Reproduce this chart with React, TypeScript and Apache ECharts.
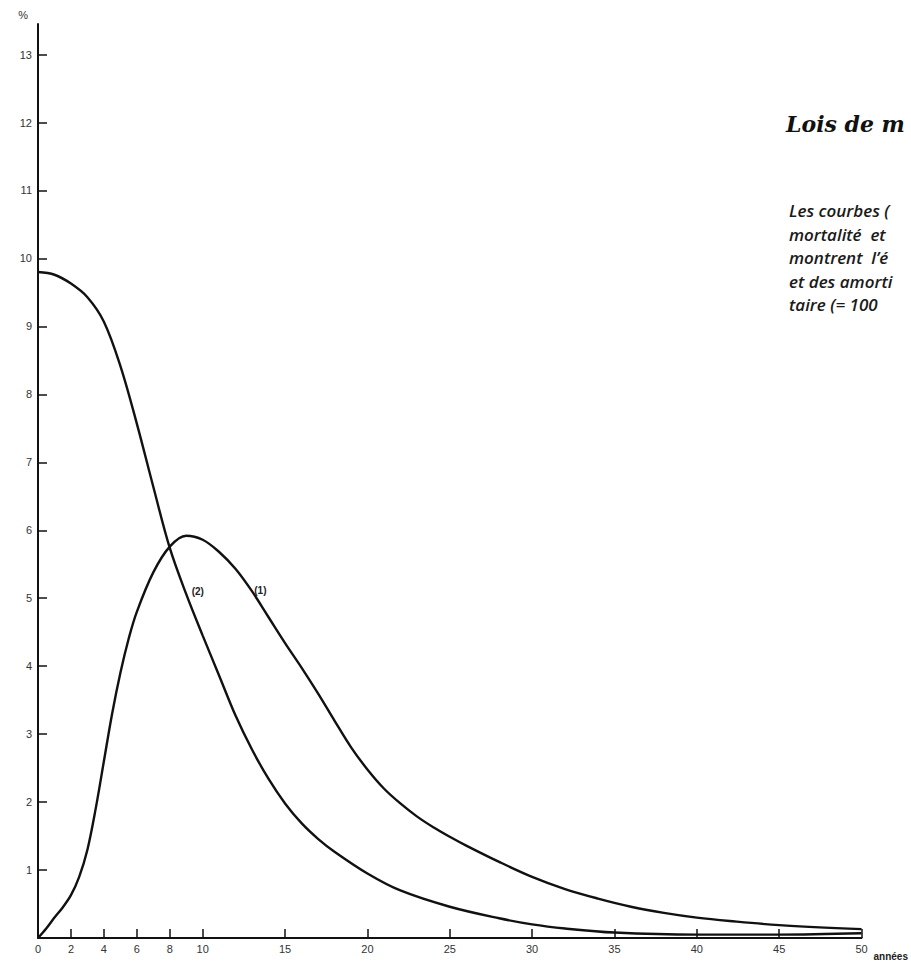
import { useEffect, useRef } from "react";
import * as echarts from "echarts";

// Curve (1): bell-shaped curve (%), by year
const years1 = [0, 0.5, 1, 1.5, 2, 2.5, 3, 3.5, 4, 4.5, 5, 5.5, 6, 7, 8, 9, 10, 11, 12, 13, 14, 15, 16, 17, 18, 19, 20, 21, 22, 23, 24, 25, 26, 28, 30, 32, 34, 36, 38, 40, 42, 45, 50];
const values1 = [0, 0.14, 0.3, 0.45, 0.63, 0.9, 1.3, 1.9, 2.6, 3.3, 3.9, 4.4, 4.8, 5.38, 5.76, 5.92, 5.86, 5.68, 5.43, 5.1, 4.72, 4.34, 3.98, 3.6, 3.2, 2.81, 2.48, 2.2, 1.98, 1.79, 1.63, 1.49, 1.36, 1.12, 0.9, 0.72, 0.58, 0.46, 0.37, 0.3, 0.25, 0.19, 0.13];

// Curve (2): decreasing curve (%), by year
const years2 = [0, 1, 2, 3, 4, 5, 6, 7, 8, 9, 10, 11, 12, 13, 14, 15, 16, 17, 18, 20, 22, 25, 28, 30, 32, 35, 40, 45, 50];
const values2 = [9.8, 9.76, 9.63, 9.43, 9.07, 8.42, 7.57, 6.64, 5.74, 5.06, 4.45, 3.86, 3.27, 2.77, 2.34, 1.98, 1.69, 1.46, 1.27, 0.95, 0.7, 0.46, 0.29, 0.2, 0.14, 0.08, 0.05, 0.05, 0.07];

const xTickValues = [0, 2, 4, 6, 8, 10, 15, 20, 25, 30, 35, 40, 45, 50];
const yTickValues = [1, 2, 3, 4, 5, 6, 7, 8, 9, 10, 11, 12, 13];

const curveNames = ["(1)", "(2)"];
const curveLabelPos1 = [13.5, 5.12];
const curveLabelPos2 = [9.7, 5.1];

const titleText = "Lois de m";
const noteLines = ["Les courbes (", "mortalité  et", "montrent  l’é", "et des amorti", "taire (= 100"];

const INK = "#111";

export default function App() {
  const ref = useRef<HTMLDivElement>(null);

  useEffect(() => {
    const chart = echarts.init(ref.current!, null, { renderer: "svg" });
    const labelFont = { fontFamily: "Liberation Sans", fontSize: 11, color: "#333" };
    const curveLabel = { show: true, fontFamily: "Liberation Sans", fontSize: 10, fontWeight: "bold", color: "#222" };
    chart.setOption({
      animation: false,
      backgroundColor: "#fff",
      grid: { left: 38, right: 9, top: 24, bottom: 20, containLabel: false },
      xAxis: {
        type: "value",
        min: 0,
        max: 50,
        name: "années",
        nameLocation: "end",
        nameGap: 3,
        nameTextStyle: {
          fontFamily: "Liberation Sans",
          fontSize: 10,
          fontWeight: "bold",
          color: "#222",
          align: "right",
          verticalAlign: "top",
          padding: [13, 0, 0, 0],
        },
        axisLine: { show: true, lineStyle: { color: INK, width: 2 } },
        axisTick: { show: true, inside: true, length: 9, customValues: xTickValues, lineStyle: { color: INK, width: 1.5 } },
        axisLabel: { ...labelFont, margin: 5, customValues: xTickValues },
        splitLine: { show: false },
      },
      yAxis: {
        type: "value",
        min: 0,
        max: 13.45,
        name: "%",
        nameLocation: "end",
        nameGap: 4,
        nameTextStyle: { fontFamily: "Liberation Sans", fontSize: 11, color: "#333", align: "right", padding: [0, 10, 0, 0] },
        axisLine: { show: true, lineStyle: { color: INK, width: 2 } },
        axisTick: { show: true, inside: true, length: 9, customValues: yTickValues, lineStyle: { color: INK, width: 1.5 } },
        axisLabel: { ...labelFont, margin: 6, customValues: yTickValues },
        splitLine: { show: false },
      },
      series: [
        {
          name: curveNames[0],
          type: "line",
          data: years1.map((x, i) => [x, values1[i]]),
          smooth: 0.35,
          showSymbol: false,
          lineStyle: { color: INK, width: 2.4 },
          markPoint: {
            symbol: "circle",
            symbolSize: 1,
            itemStyle: { color: "rgba(0,0,0,0)" },
            data: [{ coord: curveLabelPos1, label: { ...curveLabel, formatter: curveNames[0] } }],
          },
        },
        {
          name: curveNames[1],
          type: "line",
          data: years2.map((x, i) => [x, values2[i]]),
          smooth: 0.35,
          showSymbol: false,
          lineStyle: { color: INK, width: 2.4 },
          markPoint: {
            symbol: "circle",
            symbolSize: 1,
            itemStyle: { color: "rgba(0,0,0,0)" },
            data: [{ coord: curveLabelPos2, label: { ...curveLabel, formatter: curveNames[1] } }],
          },
        },
      ],
      graphic: [
        {
          type: "text",
          left: 786,
          top: 113,
          style: { text: titleText, font: 'italic bold 22px "DejaVu Serif"', fill: "#111" },
        },
        {
          type: "text",
          left: 789,
          top: 199,
          style: { text: noteLines.join("\n"), font: 'italic 600 17px "Open Sans"', lineHeight: 23.5, fill: "#1a1a1a" },
        },
      ],
    });
    return () => chart.dispose();
  }, []);

  return (
    <div
      ref={ref}
      style={{ position: "absolute", left: 0, top: 0, width: 911, height: 961, background: "#fff" }}
    />
  );
}
